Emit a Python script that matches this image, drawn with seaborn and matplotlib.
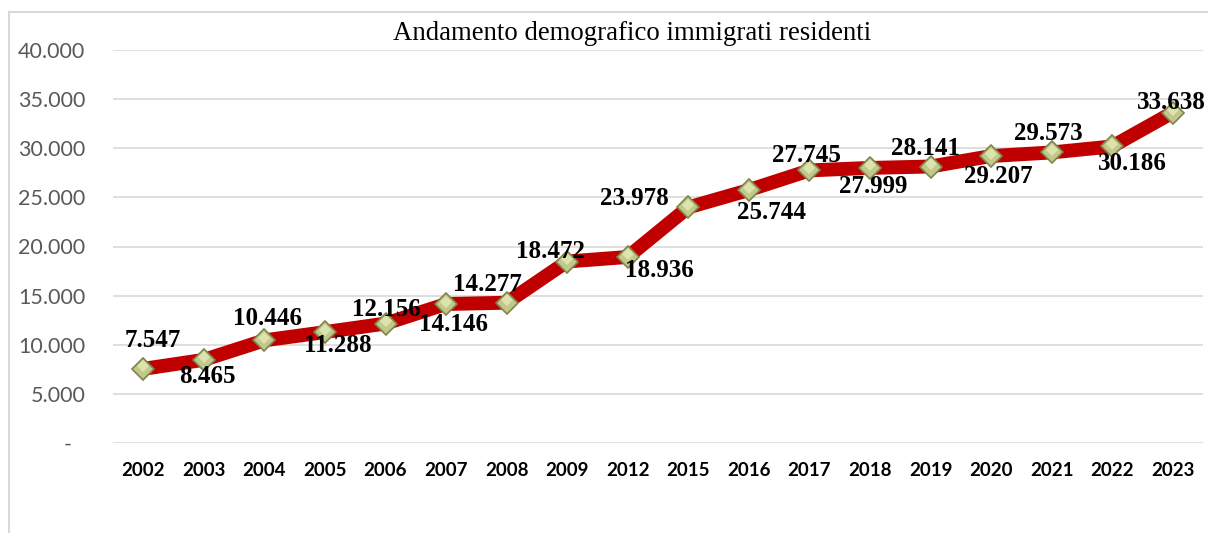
import pandas as pd
import numpy as np
import matplotlib
matplotlib.use('Agg')
import matplotlib.pyplot as plt
import matplotlib.transforms as mtransforms
from matplotlib.patches import Rectangle
import seaborn as sns

years = ['2002', '2003', '2004', '2005', '2006', '2007', '2008', '2009', '2012',
         '2015', '2016', '2017', '2018', '2019', '2020', '2021', '2022', '2023']
residents = [7547, 8465, 10446, 11288, 12156, 14146, 14277, 18472, 18936,
             23978, 25744, 27745, 27999, 28141, 29207, 29573, 30186, 33638]
y_ticks = [0, 5000, 10000, 15000, 20000, 25000, 30000, 35000, 40000]
title = 'Andamento demografico immigrati residenti'

# label offsets in pixels (dx, dy up)
label_offsets = [(10, 28), (4, -17), (3, 22), (13, -13), (1, 14), (7, -20),
                 (-19, 18), (-17, 10), (32, -14), (-54, 9), (23, -22), (-3, 15),
                 (3, -19), (-5, 18), (7, -20), (-3, 19), (20, -17), (-1, 10)]


def it_fmt(v):
    return f'{v:,}'.replace(',', '.')


df = pd.DataFrame({'anno': years, 'residenti': residents})

sns.set_theme(style='white')
plt.rcParams['font.family'] = ['Liberation Serif', 'DejaVu Serif']

fig = plt.figure(figsize=(12.08, 5.33), dpi=100)
ax = fig.add_axes([113 / 1208, 1 - 443 / 533, 1090 / 1208, 393 / 533])

sns.lineplot(data=df, x='anno', y='residenti', ax=ax, color='#c00000',
             linewidth=10, marker='D', markersize=11.5,
             markerfacecolor='#c2c88b', markeredgecolor='#80834a',
             markeredgewidth=1.2, solid_joinstyle='miter', zorder=3)
# lighter upper half of the bevelled markers
ax.plot(range(len(years)), [v + 250 for v in residents], linestyle='none',
        marker='D', markersize=6, markerfacecolor='#dde3ad',
        markeredgewidth=0, zorder=3.5)

for i, (v, off) in enumerate(zip(residents, label_offsets)):
    ax.annotate(it_fmt(v), (i, v), xytext=off, textcoords='offset pixels',
                ha='center', va='center', fontsize=18, fontweight='bold',
                family='Liberation Serif', color='black', zorder=4)

ax.set_xlim(-0.5, len(years) - 0.5)
ax.set_ylim(0, 40000)
ax.set_yticks(y_ticks)
ax.set_yticklabels(['-' if t == 0 else it_fmt(t) for t in y_ticks])
ax.grid(axis='y', color='#d9d9d9', linewidth=1.2, zorder=0)
ax.grid(axis='x', visible=False)
ax.set_axisbelow(True)
for s in ax.spines.values():
    s.set_visible(False)
ax.tick_params(axis='both', length=0)
ax.tick_params(axis='y', pad=20, labelsize=15.5, labelcolor='#595959')
ax.tick_params(axis='x', pad=14, labelsize=13.5, labelcolor='black')
for lab in ax.get_yticklabels():
    lab.set_family('Lato')
    if lab.get_text() == '-':
        lab.set_transform(lab.get_transform() +
                          mtransforms.ScaledTranslation(-14 / 100, 0, fig.dpi_scale_trans))
for lab in ax.get_xticklabels():
    lab.set_family('Lato')
    lab.set_fontweight('bold')
ax.set_xlabel('')
ax.set_ylabel('')

fig.text(632 / 1208, 1 - 33 / 533, title, ha='center', va='center',
         fontsize=19.3, family='Liberation Serif', color='black')

fig.patches.append(Rectangle((9 / 1208, -0.1), 1.2, (533 - 12) / 533 + 0.1,
                             transform=fig.transFigure, fill=False,
                             edgecolor='#d9d9d9', linewidth=1.5))

fig.savefig('out.png', dpi=100)
plt.close()
